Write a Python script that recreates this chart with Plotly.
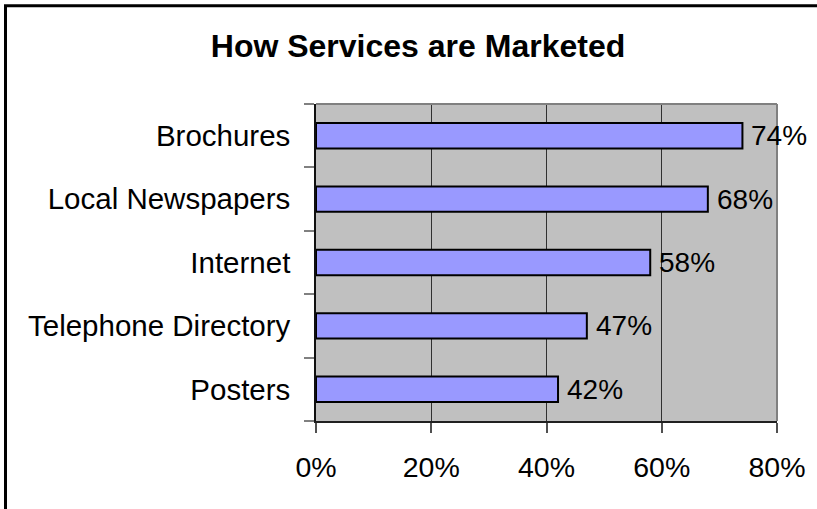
import plotly.graph_objects as go

# Share of respondents using each marketing channel (percent)
channels = ["Posters", "Telephone Directory", "Internet", "Local Newspapers", "Brochures"]
shares = [42, 47, 58, 68, 74]
x_ticks = [0, 20, 40, 60, 80]
x_tick_labels = ["0%", "20%", "40%", "60%", "80%"]
title_text = "How Services are Marketed"

W, H = 817, 509
L, R, T, B = 316, 40, 104, 87.5
pw, ph = W - L - R, H - T - B

def px_to_paper_x(px):
    return (px - L) / pw

def px_to_paper_y(py):
    return (H - B - py) / ph

FONT = "Liberation Sans, Arial, sans-serif"

fig = go.Figure()
fig.add_trace(go.Bar(
    y=channels,
    x=shares,
    orientation="h",
    width=0.4,
    marker=dict(color="#9999FF", line=dict(color="black", width=2)),
    hoverinfo="skip",
))

# Value labels just past the end of each bar
for name, value in zip(channels, shares):
    fig.add_annotation(
        x=value, y=name, xref="x", yref="y",
        text=f"{value}%", showarrow=False,
        xanchor="left", yanchor="middle", xshift=7,
        font=dict(family=FONT, size=28, color="black"),
    )

fig.update_layout(
    width=W, height=H,
    margin=dict(l=L, r=R, t=T, b=B, autoexpand=False),
    paper_bgcolor="white",
    plot_bgcolor="#C0C0C0",
    showlegend=False,
    font=dict(family=FONT, color="black"),
    title=dict(
        text=f"<b>{title_text}</b>",
        font=dict(family=FONT, size=32, color="black"),
        x=418 / W, xanchor="center",
        y=1 - 46 / H, yanchor="middle",
        xref="container", yref="container",
    ),
    xaxis=dict(
        range=[0, 80],
        tickvals=x_ticks,
        ticktext=x_tick_labels,
        showgrid=True, gridcolor="#303030", gridwidth=1,
        zeroline=False,
        showline=True, linecolor="#202020", linewidth=1.5,
        ticks="outside", ticklen=10, tickcolor="#505050", tickwidth=1.5,
        ticklabelstandoff=10,
        tickfont=dict(family=FONT, size=28.5, color="black"),
        fixedrange=True,
    ),
    yaxis=dict(
        type="category",
        categoryorder="array", categoryarray=channels,
        range=[-0.5, len(channels) - 0.5],
        showgrid=False, zeroline=False,
        showline=True, linecolor="#101010", linewidth=1.5,
        ticks="outside", ticklen=10, tickcolor="#808080", tickwidth=1.5,
        tickson="boundaries",
        ticklabelstandoff=18,
        tickfont=dict(family=FONT, size=29.5, color="black"),
        fixedrange=True,
    ),
)

# Plot-area frame on the top and right sides
fig.add_shape(type="line", xref="paper", yref="paper", x0=0, x1=1, y0=1, y1=1,
              line=dict(color="#808080", width=2), layer="above")
fig.add_shape(type="line", xref="paper", yref="paper", x0=1, x1=1, y0=0, y1=1,
              line=dict(color="#808080", width=2), layer="above")

# Chart-area border running off the right and bottom edges
fig.add_shape(type="rect", xref="paper", yref="paper",
              x0=px_to_paper_x(5.5), x1=px_to_paper_x(W + 50),
              y0=px_to_paper_y(H + 50), y1=px_to_paper_y(5.5),
              line=dict(color="black", width=3), fillcolor="rgba(0,0,0,0)", layer="above")

fig.write_html("out.html", config={"displayModeBar": False})
